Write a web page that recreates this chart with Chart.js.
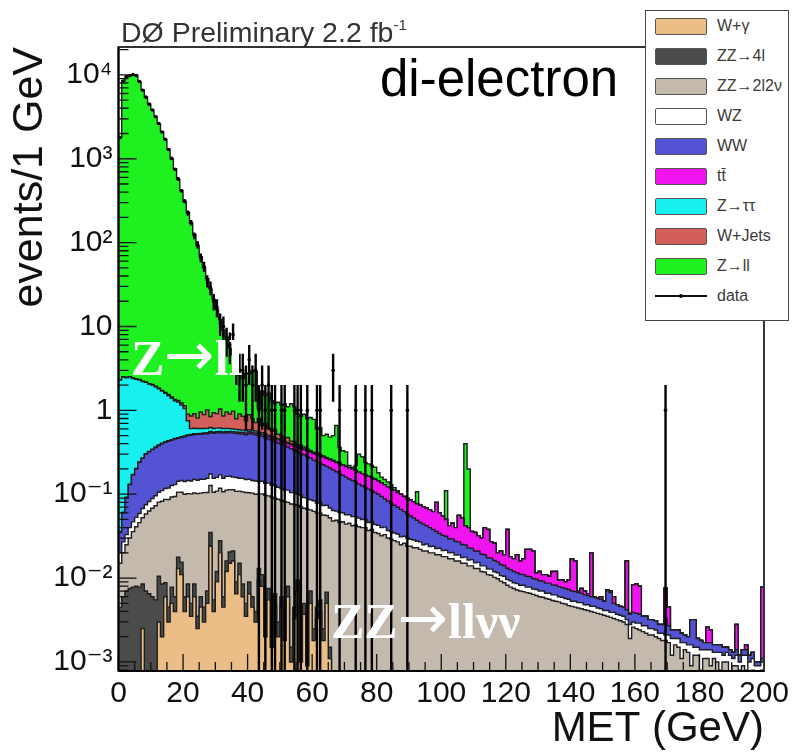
<!DOCTYPE html>
<html>
<head>
<meta charset="utf-8">
<script src="https://cdn.jsdelivr.net/npm/chart.js@4.4.1/dist/chart.umd.min.js"></script>
<style>
html,body{margin:0;padding:0;background:#fff;}
#wrap{position:relative;width:794px;height:755px;overflow:hidden;background:#fff;}
#c{position:absolute;left:0;top:0;}
.lbl{position:absolute;white-space:nowrap;line-height:1;}
.arr{font-family:'DejaVu Sans',sans-serif;font-weight:normal;font-size:60px;line-height:0;}
#legend{position:absolute;left:645px;top:10px;width:144px;height:311px;border:1.5px solid #444;background:#fff;box-sizing:border-box;}
.sw{position:absolute;left:9px;width:52px;height:17px;box-sizing:border-box;border:1.5px solid #555;border-radius:2px;}
.lt{position:absolute;left:71px;font-family:'Liberation Sans',Arial,sans-serif;font-size:16px;color:#3a3a3a;line-height:1;white-space:nowrap;}
</style>
</head>
<body>
<div id="wrap">
<canvas id="c" width="794" height="755"></canvas>
<div class="lbl" style="left:121px;top:18px;font-family:'Liberation Sans',Arial,sans-serif;font-size:28.5px;color:#333;">DØ Preliminary 2.2 fb<span style="position:relative;top:-12px;font-size:15px;">-1</span></div>
<div class="lbl" style="left:380px;top:53px;font-family:'Liberation Sans',Arial,sans-serif;font-size:51px;color:#000;">di-electron</div>
<div class="lbl" style="left:131px;top:333px;font-family:'Liberation Serif','Times New Roman',serif;font-weight:bold;font-size:50px;color:#fff;">Z<span class="arr">→</span>ll</div>
<div class="lbl" style="left:331px;top:596px;font-family:'Liberation Serif','Times New Roman',serif;font-weight:bold;font-size:50px;color:#fff;">ZZ<span class="arr">→</span>llνν</div>
<div id="legend"></div>
</div>
<script>
// ---------------- DATA (events / 1 GeV bin, MET 0..200 GeV) ----------------
const binWidthGeV = 1;
const metBinLow = Array.from({length: 200}, (_, i) => i * binWidthGeV);

const wGamma = [
0,0,0,0,0,0,0,0.0025,0,0,
0,0,0.003,0.002,0.006,0.003,0.005,0.004,0.013,0.011,
0.004,0.006,0.0035,0.006,0.0025,0.0045,0.003,0.005,0.024,0.004,
0.009,0.02,0.0045,0.012,0.015,0.016,0.0065,0.011,0.006,0.0035,
0.0065,0.0045,0.003,0.0095,0.008,0.002,0.0055,0.0015,0.0048,0.002,
0.0045,0.0018,0.006,0.001,0.0033,0.007,0.001,0.0037,0.0009,0.005,
0.0018,0.0033,0.004,0.0018,0.005,0.0011,0,0,0,0,
0,0,0,0,0,0,0,0,0,0, 0,0,0,0,0,0,0,0,0,0, 0,0,0,0,0,0,0,0,0,0,
0,0,0,0,0,0,0,0,0,0, 0,0,0,0,0,0,0,0,0,0, 0,0,0,0,0,0,0,0,0,0,
0,0,0,0,0,0,0,0,0,0, 0,0,0,0,0,0,0,0,0,0, 0,0,0,0,0,0,0,0,0,0,
0,0,0,0,0,0,0,0,0,0, 0,0,0,0,0,0,0,0,0,0, 0,0,0,0,0,0,0,0,0,0,
0,0,0,0,0,0,0,0,0,0];

const zz4l = [
0.0045,0.006,0.007,0.0075,0.0078,0.008,0.0078,0.006,0.007,0.0065,
0.006,0.0055,0.0075,0.0065,0.0028,0.0015,0.0028,0.002,0.0048,0.0045,
0.002,0.0025,0.0015,0.0025,0.001,0.0015,0.0015,0.002,0.011,0.0015,
0.003,0.008,0.0015,0.004,0.0055,0.005,0.0025,0.004,0.0025,0.0015,
0.0025,0.0015,0.001,0.0035,0.003,0.001,0.002,0.0005,0.0017,0.001,
0.0015,0.0007,0.002,0.0005,0.0012,0.0025,0.0005,0.0013,0.0003,0.002,
0.0007,0.0012,0.0015,0.0007,0.0018,0.0004,0,0,0,0,
0,0,0,0,0,0,0,0,0,0, 0,0,0,0,0,0,0,0,0,0, 0,0,0,0,0,0,0,0,0,0,
0,0,0,0,0,0,0,0,0,0, 0,0,0,0,0,0,0,0,0,0, 0,0,0,0,0,0,0,0,0,0,
0,0,0,0,0,0,0,0,0,0, 0,0,0,0,0,0,0,0,0,0, 0,0,0,0,0,0,0,0,0,0,
0,0,0,0,0,0,0,0,0,0, 0,0,0,0,0,0,0,0,0,0, 0,0,0,0,0,0,0,0,0,0,
0,0,0,0,0,0,0,0,0,0];

const zz2l2v = [
0.0105,0.014,0.018,0.0225,0.028,0.033,0.038,0.044,0.051,0.0565,
0.062,0.0675,0.07,0.074,0.078,0.082,0.085,0.088,0.088,0.09,
0.094,0.093,0.096,0.095,0.098,0.097,0.1,0.098,0.092,0.1,
0.097,0.09,0.101,0.096,0.093,0.092,0.099,0.094,0.098,0.1,
0.095,0.097,0.096,0.088,0.09,0.094,0.088,0.09,0.083,0.084,
0.078,0.079,0.072,0.075,0.071,0.064,0.069,0.063,0.065,0.058,
0.06,0.055,0.054,0.054,0.049,0.051,0.048,0.049,0.046,0.047,
0.044,0.045,0.042,0.043,0.041,0.04,0.04,0.037,0.038,0.035,
0.034,0.032,0.033,0.03,0.029,0.028,0.027,0.025,0.026,0.024,
0.024,0.023,0.023,0.022,0.021,0.021,0.02,0.02,0.019,0.019,
0.018,0.018,0.017,0.017,0.016,0.016,0.015,0.015,0.014,0.014,
0.013,0.013,0.012,0.0118,0.011,0.0108,0.0102,0.0098,0.0092,0.0088,
0.0082,0.0078,0.0075,0.0072,0.007,0.0069,0.0067,0.0066,0.0064,0.0062,
0.006,0.0059,0.0057,0.0056,0.0054,0.0053,0.0052,0.005,0.0049,0.0047,
0.0046,0.0045,0.0044,0.0043,0.0042,0.0041,0.004,0.0039,0.0038,0.0037,
0.0036,0.0035,0.0034,0.0033,0.0032,0.0031,0.003,0.0028,0.0019,0.0026,
0.0025,0.0024,0.0023,0.0022,0.0021,0.0021,0.002,0.0019,0.0018,0.0018,
0.0017,0.0012,0.0016,0.0015,0.0011,0.0014,0.0013,0.0009,0.0012,0.0012,
0.0008,0.0011,0.0011,0.0009,0.0011,0.001,0.0008,0.001,0.001,0.0007,
0.0009,0.0009,0.0008,0.0009,0.0008,0.0006,0.0008,0.0005,0.0007,0.0008];

const wz = [
0.005,0.007,0.008,0.01,0.011,0.012,0.013,0.015,0.017,0.019,
0.021,0.023,0.025,0.028,0.03,0.032,0.034,0.036,0.037,0.04,
0.042,0.044,0.043,0.047,0.045,0.048,0.046,0.05,0.047,0.049,
0.05,0.052,0.048,0.051,0.05,0.047,0.05,0.046,0.048,0.045,
0.047,0.043,0.044,0.041,0.042,0.038,0.04,0.036,0.037,0.034,
0.033,0.031,0.032,0.028,0.029,0.026,0.027,0.023,0.024,0.021,
0.021,0.019,0.02,0.017,0.018,0.016,0.016,0.014,0.015,0.013,
0.013,0.012,0.012,0.011,0.011,0.01,0.01,0.009,0.0095,0.0085,
0.0085,0.008,0.0075,0.007,0.007,0.0065,0.0065,0.006,0.0055,0.006,
0.005,0.0055,0.0045,0.005,0.004,0.0045,0.0038,0.004,0.0035,0.0037,
0.0033,0.0035,0.003,0.0032,0.0028,0.003,0.0026,0.0028,0.0024,0.0026,
0.0022,0.0024,0.002,0.0022,0.0018,0.002,0.0017,0.0018,0.0015,0.0017,
0.0014,0.0015,0.0013,0.0014,0.0012,0.0013,0.0011,0.0012,0.001,0.0011,
0.001,0.0011,0.0009,0.001,0.0009,0.001,0.0008,0.0009,0.0008,0.0009,
0.0007,0.0008,0.0007,0.0008,0.0006,0.0007,0.0006,0.0007,0.0006,0.0006,
0.0005,0.0006,0.0005,0.0006,0.0005,0.0005,0.0005,0.0004,0.0009,0.0004,
0.0004,0.0005,0.0004,0.0005,0.0004,0.0004,0.0004,0.0003,0.0004,0.0003,
0.0004,0.0007,0.0003,0.0004,0.0006,0.0003,0.0003,0.0007,0.0003,0.0003,
0.0006,0.0003,0.0003,0.0005,0.0002,0.0003,0.0005,0.0002,0.0003,0.0005,
0.0002,0.0003,0.0002,0.0003,0.0004,0.0004,0.0003,0.0004,0.0002,0.0002];

const ww = [
0.015,0.033,0.057,0.09,0.123,0.147,0.181,0.2,0.225,0.238,
0.251,0.264,0.275,0.29,0.3,0.31,0.313,0.325,0.322,0.33,
0.343,0.355,0.36,0.365,0.37,0.368,0.375,0.372,0.37,0.378,
0.38,0.375,0.38,0.378,0.376,0.375,0.372,0.37,0.366,0.362,
0.379,0.374,0.366,0.358,0.347,0.335,0.32,0.312,0.298,0.289,
0.278,0.2675,0.253,0.2455,0.2305,0.2205,0.2075,0.204,0.19,0.184,
0.1715,0.1665,0.1555,0.1515,0.141,0.1365,0.131,0.122,0.116,0.108,
0.103,0.095,0.092,0.086,0.08,0.076,0.07,0.069,0.0625,0.0615,
0.0575,0.054,0.0475,0.046,0.042,0.0395,0.0365,0.035,0.0305,0.028,
0.026,0.0235,0.0215,0.019,0.019,0.0165,0.0162,0.014,0.0135,0.0113,
0.011,0.01,0.0095,0.009,0.0085,0.008,0.0075,0.007,0.0065,0.006,
0.0058,0.0055,0.0052,0.005,0.0047,0.0045,0.0043,0.004,0.0038,0.0036,
0.0035,0.0033,0.0032,0.003,0.0029,0.0028,0.0027,0.0026,0.0025,0.0024,
0.0023,0.0022,0.0021,0.0021,0.002,0.0019,0.0019,0.0018,0.0018,0.0017,
0.0017,0.0016,0.0016,0.0015,0.0015,0.0014,0.0014,0.0013,0.0013,0.0013,
0.0012,0.003,0.0028,0.0011,0.0011,0.001,0.001,0.001,0.0009,0.0009,
0.0009,0.0008,0.0008,0.0008,0.0007,0.0007,0.0007,0.0006,0.0006,0.0012,
0.0006,0.0005,0.0005,0.0005,0.0005,0.0004,0.0004,0.0016,0.0017,0.0004,
0.0004,0.0003,0.0003,0.0003,0.0003,0.0003,0.0003,0.0003,0.0002,0.0002,
0.0002,0.0002,0.0002,0.0002,0.0002,0.0002,0.0002,0.0001,0.0001,0.0001];

const ttbar = [
0.001,0.001,0.002,0.002,0.002,0.003,0.003,0.003,0.004,0.004,
0.004,0.005,0.005,0.006,0.006,0.007,0.007,0.008,0.008,0.009,
0.009,0.01,0.011,0.011,0.012,0.013,0.013,0.014,0.015,0.015,
0.016,0.017,0.018,0.018,0.019,0.02,0.021,0.022,0.023,0.024,
0.025,0.026,0.027,0.028,0.029,0.03,0.031,0.032,0.033,0.034,
0.035,0.036,0.038,0.039,0.04,0.042,0.043,0.044,0.046,0.047,
0.048,0.05,0.05,0.052,0.052,0.053,0.054,0.054,0.054,0.055,
0.054,0.054,0.053,0.052,0.052,0.05,0.049,0.048,0.047,0.046,
0.044,0.043,0.042,0.04,0.039,0.037,0.035,0.034,0.032,0.031,
0.03,0.029,0.028,0.028,0.027,0.026,0.025,0.024,0.044,0.026,
0.0227,0.0185,0.0125,0.0158,0.0127,0.029,0.0269,0.0172,0.0171,0.0134,
0.014,0.0111,0.0108,0.021,0.0205,0.0097,0.0098,0.0044,0.0065,0.0049,
0.0249,0.0054,0.005,0.0074,0.0049,0.006,0.0115,0.0116,0.0111,0.0018,
0.0027,0.0018,0.0023,0.0018,0.0037,0.0038,0.0016,0.0018,0.0015,0.0022,
0.01,0.0091,0.0003,0.0009,0.0007,0.0003,0.014,0.0001,0.0001,0.0004,
0,0.0001,0.0003,0.001,0,0,0,0.0118,0.0001,0.0044,
0.0047,0.0043,0,0,0,0,0,0,0,0.0043,
0.0018,0,0,0,0,0,0,0,0,0,
0,0,0.0009,0.0007,0,0,0,0,0,0,
0,0.0014,0,0,0.0002,0,0,0,0,0.0067];

const zTauTau = [
2.26,2.44,2.36,2.37,2.23,2.15,2.06,1.93,1.85,1.73,
1.66,1.54,1.42,1.29,1.17,1.06,0.95,0.84,0.78,0.67,
0.56,0.24,0.09,0.085,0.08,0.075,0.07,0.068,0.065,0.06,
0.058,0.055,0.052,0.05,0.047,0.045,0.042,0.04,0.037,0.035,
0.032,0.03,0.028,0.026,0.024,0.022,0.02,0.018,0.016,0.015,
0.013,0.012,0.011,0.01,0.009,0.008,0.007,0.007,0.006,0.005,
0.004,0.004,0.003,0.003,0.002,0.002,0.002,0.001,0.001,0.001,
0.001,0,0,0,0,0,0,0,0,0,
0,0,0,0,0,0,0,0,0,0, 0,0,0,0,0,0,0,0,0,0, 0,0,0,0,0,0,0,0,0,0,
0,0,0,0,0,0,0,0,0,0, 0,0,0,0,0,0,0,0,0,0, 0,0,0,0,0,0,0,0,0,0,
0,0,0,0,0,0,0,0,0,0, 0,0,0,0,0,0,0,0,0,0, 0,0,0,0,0,0,0,0,0,0,
0,0,0,0,0,0,0,0,0,0, 0,0,0,0,0,0,0,0,0,0, 0,0,0,0,0,0,0,0,0,0];

const wJets = [
0.02,0.02,0.025,0.02,0.03,0.02,0.03,0.025,0.03,0.03,
0.035,0.03,0.04,0.035,0.04,0.05,0.045,0.05,0.06,0.07,
0.08,0.15,0.25,0.3,0.2,0.35,0.28,0.4,0.22,0.33,
0.3,0.42,0.25,0.35,0.3,0.38,0.2,0.32,0.27,0.18,
0.3,0.22,0.15,0.25,0.12,0.18,0.1,0.08,0.12,0.06,
0.05,0.04,0.06,0.03,0.04,0.02,0.03,0.02,0.015,0.01,
0.01,0.008,0.008,0.006,0.005,0.004,0.003,0.002,0.002,0.001,
0.001,0,0,0,0,0,0,0,0,0,
0,0,0,0,0,0,0,0,0,0, 0,0,0,0,0,0,0,0,0,0, 0,0,0,0,0,0,0,0,0,0,
0,0,0,0,0,0,0,0,0,0, 0,0,0,0,0,0,0,0,0,0, 0,0,0,0,0,0,0,0,0,0,
0,0,0,0,0,0,0,0,0,0, 0,0,0,0,0,0,0,0,0,0, 0,0,0,0,0,0,0,0,0,0,
0,0,0,0,0,0,0,0,0,0, 0,0,0,0,0,0,0,0,0,0, 0,0,0,0,0,0,0,0,0,0];

const zLL = [
1798,8498,9497,9798,9998,9898,8298,6598,5398,4498,
3798,3198,2598,2098,1698,1298.5,998.6,758.7,568.7,418.8,
308.9,229.1,169.1,124.1,91.2,67.1,49.2,36.1,27.2,20.1,
15.1,11.0,8.15,6.54,4.59,3.62,2.21,1.69,1.55,2.05,
1.84,2.2,2.19,0.25,1.04,0.8,0.99,0.73,0.61,0.73,
0.66,0.73,0.63,0.77,0.68,0.51,0.465,0.534,0.453,0.49,
0.463,0.293,0.324,0.214,0.246,0.216,0.246,0.418,0.126,0.105,
0.104,0.014,0.011,0.028,0.116,0.104,0.071,0.067,0.063,0.059,
0.036,0.023,0.02,0.017,0.013,0.009,0.005,0,0,0,
0,0,0.03,0,0,0,0,0,0,0,
0,0.06,0,0,0,0,0,0.358,0.16,0,
0,0,0,0,0,0,0,0,0,0, 0,0,0,0,0,0,0,0,0,0, 0,0,0,0,0,0,0,0,0,0,
0,0,0,0,0,0,0,0,0,0, 0,0,0,0,0,0,0,0,0,0, 0,0,0,0,0,0,0,0,0,0,
0,0,0,0,0,0,0,0,0,0, 0,0,0,0,0,0,0,0,0,0, 0,0,0,0,0,0,0,0,0,0];

const dataCounts = [
1790,8450,9560,9750,10080,9850,8350,6570,5430,4480,
3820,3170,2630,2080,1710,1290,1010,750,575,415,
312,226,173,121,95,66,52,35,29,20,
17,11,10,7,6,8,4,3,3,2,
4,2,3,1,2,1,2,1,1,0,
1,1,0,0,1,1,1,0,1,0,
0,1,1,0,0,0,3,0,1,0,
0,0,0,1,0,0,1,0,1,0,
0,0,0,0,1,0,0,0,0,1,
0,0,0,0,0,0,0,0,0,0, 0,0,0,0,0,0,0,0,0,0, 0,0,0,0,0,0,0,0,0,0,
0,0,0,0,0,0,0,0,0,0, 0,0,0,0,0,0,0,0,0,0, 0,0,0,0,0,0,0,0,0,0,
0,0,0,0,0,0,0,0,0,0, 0,0,0,0,0,0,0,0,0,1,
0,0,0,0,0,0,0,0,0,0, 0,0,0,0,0,0,0,0,0,0, 0,0,0,0,0,0,0,0,0,0];

const seriesNames  = ['W+γ','ZZ→4l','ZZ→2l2ν','WZ','WW','tt̄','Z→ττ','W+Jets','Z→ll'];
const seriesColors = ['#ebbe87','#4b4b4b','#c3b9ad','#ffffff','#5353d3','#f014f0','#18f0f0','#d25f5a','#1ff01f'];
const seriesValues = [wGamma, zz4l, zz2l2v, wz, ww, ttbar, zTauTau, wJets, zLL];

const xTickValues = [0,20,40,60,80,100,120,140,160,180,200];
const xMinorStepGeV = 5;
const yTickValues = [1e-3,1e-2,1e-1,1,10,100,1000,10000];
const yTickLabels = ['10⁻³','10⁻²','10⁻¹','1','10','10²','10³','10⁴'];
const yRange = [7.8e-4, 2.15e4];

// ---------------- BUILD ----------------
const FONT = "'Liberation Sans', Arial, 'DejaVu Sans', sans-serif";
const TINY = 1e-7;
const nBins = metBinLow.length;
const datasets = [];
let cum = new Array(nBins).fill(0);
seriesValues.forEach((vals, k) => {
  cum = cum.map((c, i) => c + vals[i]);
  const pts = metBinLow.map((x, i) => ({x, y: Math.max(cum[i], TINY)}));
  pts.push({x: metBinLow[nBins - 1] + binWidthGeV, y: Math.max(cum[nBins - 1], TINY)});
  datasets.push({
    type: 'line', label: seriesNames[k], data: pts, stepped: true, fill: 'start',
    backgroundColor: seriesColors[k], borderColor: '#1e1e1e', borderWidth: 1.4,
    pointRadius: 0, tension: 0, order: 0
  });
});
// data: error bars (sqrt N) and markers
const errPts = [], markPts = [];
dataCounts.forEach((n, i) => {
  if (n <= 0) return;
  const xc = metBinLow[i] + binWidthGeV / 2, e = Math.sqrt(n);
  errPts.push({x: xc, y: Math.max(n - e, TINY)}, {x: xc, y: n + e}, {x: xc, y: null});
  markPts.push({x: xc, y: n});
});
datasets.push({type: 'line', label: 'data errors', data: errPts, borderColor: '#000', borderWidth: 2.4,
  pointRadius: 0, fill: false, spanGaps: false, order: -1});
datasets.push({type: 'line', label: 'data', data: markPts, showLine: false, pointRadius: 1.8,
  pointBackgroundColor: '#000', pointBorderWidth: 0, order: -2});

const frameTicks = {
  id: 'frameTicks',
  afterDatasetsDraw(chart) {
    const {ctx, chartArea: a, scales: {x, y}} = chart;
    ctx.save();
    ctx.strokeStyle = '#111';
    ctx.lineWidth = 1.3;
    ctx.beginPath();
    for (let v = x.min; v <= x.max + 1e-9; v += xMinorStepGeV) {
      const px = x.getPixelForValue(v);
      const len = xTickValues.includes(v) ? 17 : 9;
      ctx.moveTo(px, a.bottom); ctx.lineTo(px, a.bottom - len);
    }
    const e0 = Math.floor(Math.log10(y.min)), e1 = Math.ceil(Math.log10(y.max));
    for (let e = e0; e <= e1; e++) {
      for (let k = 1; k <= 9; k++) {
        const v = k * Math.pow(10, e);
        if (v < y.min || v > y.max) continue;
        const py = y.getPixelForValue(v);
        const len = k === 1 ? 18 : 10;
        ctx.moveTo(a.left, py); ctx.lineTo(a.left + len, py);
      }
    }
    ctx.stroke();
    ctx.lineWidth = 2;
    ctx.strokeStyle = '#333';
    ctx.strokeRect(a.left, a.top, a.right - a.left, a.bottom - a.top);
    ctx.strokeStyle = '#000';
    ctx.beginPath();
    ctx.moveTo(a.left, a.bottom); ctx.lineTo(a.right, a.bottom);
    ctx.moveTo(a.left, a.top); ctx.lineTo(a.left, a.bottom);
    ctx.stroke();
    ctx.restore();
  }
};

new Chart(document.getElementById('c'), {
  type: 'line',
  data: {datasets},
  plugins: [frameTicks],
  options: {
    responsive: false, animation: false, devicePixelRatio: 1,
    layout: {padding: {left: 0, right: 26.5, top: 47, bottom: 0}},
    plugins: {legend: {display: false}, tooltip: {enabled: false}, title: {display: false}},
    scales: {
      x: {
        type: 'linear', min: 0, max: 200, offset: false,
        grid: {display: false, drawTicks: false}, border: {display: false},
        ticks: {autoSkip: false, maxRotation: 0, minRotation: 0, padding: 5, color: '#111',
          font: {family: FONT, size: 30}},
        afterBuildTicks: s => { s.ticks = xTickValues.map(v => ({value: v})); },
        afterFit: s => { s.height = 84; },
        title: {display: true, text: 'MET (GeV)', align: 'end', color: '#111',
          font: {family: FONT, size: 42, lineHeight: 1.2}, padding: {top: 0, bottom: 0}}
      },
      y: {
        type: 'logarithmic', min: yRange[0], max: yRange[1],
        grid: {display: false, drawTicks: false}, border: {display: false},
        ticks: {autoSkip: false, padding: 6, color: '#111', font: {family: FONT, size: 30},
          callback: (v, i) => yTickLabels[i]},
        afterBuildTicks: s => { s.ticks = yTickValues.map(v => ({value: v})); },
        afterFit: s => { s.width = 118.5; },
        title: {display: true, text: 'events/1 GeV', align: 'end', color: '#111',
          font: {family: FONT, size: 43, lineHeight: 1.2}, padding: {top: 4, bottom: 0}}
      }
    }
  }
});

// ---------------- LEGEND ----------------
const legend = document.getElementById('legend');
const legendRowY0 = 15, legendRowStep = 30;
seriesNames.forEach((name, k) => {
  const cy = legendRowY0 + k * legendRowStep;
  const sw = document.createElement('div');
  sw.className = 'sw';
  sw.style.top = (cy - 8.5) + 'px';
  sw.style.background = seriesColors[k];
  legend.appendChild(sw);
  const t = document.createElement('div');
  t.className = 'lt';
  t.style.top = (cy - 8) + 'px';
  t.textContent = name;
  legend.appendChild(t);
});
{
  const cy = legendRowY0 + seriesNames.length * legendRowStep;
  const ln = document.createElement('div');
  ln.style.cssText = 'position:absolute;left:9px;width:52px;height:1.5px;background:#111;top:' + (cy - 0.75) + 'px;';
  legend.appendChild(ln);
  const dot = document.createElement('div');
  dot.style.cssText = 'position:absolute;left:33px;width:4px;height:4px;border-radius:2px;background:#111;top:' + (cy - 2) + 'px;';
  legend.appendChild(dot);
  const t = document.createElement('div');
  t.className = 'lt';
  t.style.top = (cy - 8) + 'px';
  t.textContent = 'data';
  legend.appendChild(t);
}
</script>
</body>
</html>
